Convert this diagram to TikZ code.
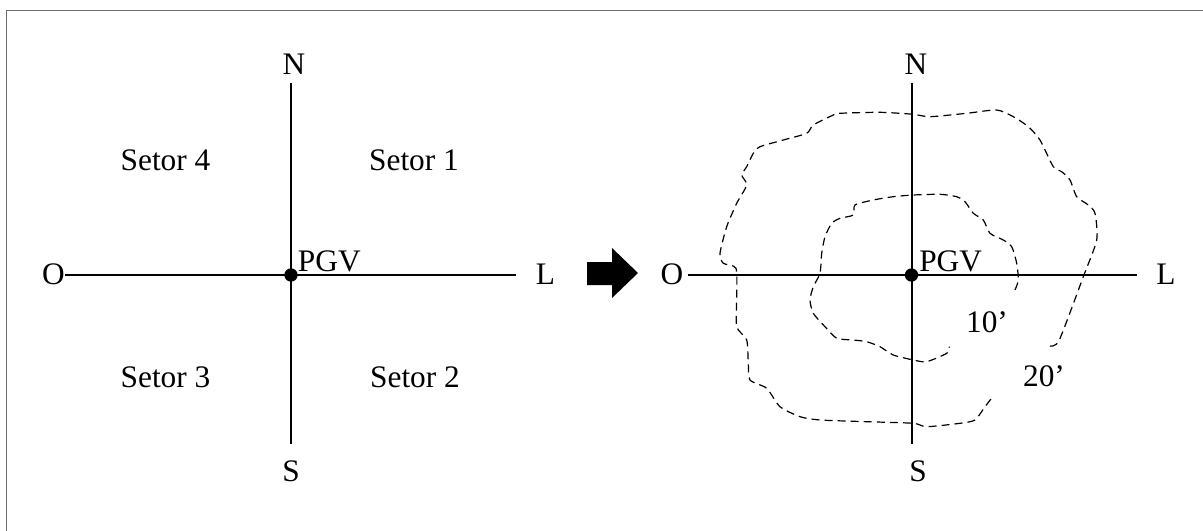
\documentclass[tikz,border=0pt]{standalone}
\usepackage{fontspec}
\setmainfont{Liberation Serif}
\usetikzlibrary{positioning}

\definecolor{framegray}{RGB}{110,110,110}

\begin{document}
\begin{tikzpicture}[
    x=0.75pt, y=-0.75pt,
    axis/.style={line width=1.5pt},
    contour/.style={line width=0.9pt, dash pattern=on 6pt off 3.8pt},
    dot/.style={circle, fill, inner sep=0pt, minimum size=10pt},
    lbl/.style={inner sep=0pt, anchor=base, font=\fontsize{23.5pt}{28pt}\selectfont},
    sector/.style={lbl},
    bigarrow/.style={fill=black}
]
\useasboundingbox (0,0) rectangle (1203,531);

% Frame
\draw[framegray, line width=1.1pt] (1203,10.7) -- (6.7,10.7) -- (6.7,531);

% Left compass
\coordinate (nL) at (291,83);
\coordinate (sL) at (291,443.6);
\coordinate (oL) at (65,275);
\coordinate (lL) at (516,275);
\draw[axis] (nL) -- (sL);
\draw[axis] (oL) -- (lL);
\node[dot] (pgvL) at (291,275) {};
\node[lbl] (northL) at (294,75) {N};
\node[lbl] (southL) at (291,481) {S};
\node[lbl] (westL) at (53.5,284) {O};
\node[lbl] (eastL) at (545.5,284) {L};
\node[lbl, anchor=base west] (pgvtextL) at (297.7,271) {PGV};

% Sectors
\node[sector] (setor4) at (165.5,171) {Setor 4};
\node[sector] (setor1) at (414,171) {Setor 1};
\node[sector] (setor3) at (165.5,387) {Setor 3};
\node[sector] (setor2) at (415,387) {Setor 2};

% Arrow between the two
\fill[bigarrow] (587,262) -- (612,262) -- (612,248) -- (638,273)
    -- (612,298) -- (612,285) -- (587,285) -- cycle;

% Right compass
\coordinate (nR) at (911.5,83);
\coordinate (sR) at (911.5,443.6);
\coordinate (oR) at (687.7,275);
\coordinate (lR) at (1136.5,275);
\draw[axis] (nR) -- (sR);
\draw[axis] (oR) -- (lR);
\node[dot] (pgvR) at (911.5,275) {};
\node[lbl] (northR) at (916,75) {N};
\node[lbl] (southR) at (918,481) {S};
\node[lbl] (westR) at (672,284) {O};
\node[lbl] (eastR) at (1166,284) {L};
\node[lbl, anchor=base west] (pgvtextR) at (919,271) {PGV};

% Contour 20'
\draw[contour] plot[smooth, tension=0.4] coordinates {
    (1050,346) (1059.3,340) (1083.3,276.7) (1096.7,240) (1095,213.3)
    (1088.3,205) (1076.7,196.7) (1070,180) (1061.7,171.7) (1053.3,166.7)
    (1040,140) (1028.3,126.7) (1013.3,116.7) (996.7,110) (966.7,113.3)
    (930,116.7) (913.3,114.3) (880,112.3) (840,113.3) (833.3,115)
    (813.3,125) (806.7,133.3) (783.3,140) (760,146.7) (753.3,153.3)
    (746.7,166.7) (741.7,175) (746.7,185) (736.7,203.3) (726.7,226.7)
    (720,253.3) (723.3,263.3) (736,268.3) (736.7,296.7) (736.7,326.7)
    (746.7,340) (748.3,363.3) (750,380) (766.7,388.3) (780,406.7)
    (800,416.7) (820,420) (866.7,421.7) (913.3,423.3) (926.7,426.7)
    (960,423.3) (975,420) (985,406.7) (992.7,396.7)};
\node[lbl] (t20) at (1044,386) {20’};

% Contour 10'
\draw[contour] plot[smooth, tension=0.4] coordinates {
    (1015,290) (1018.3,280) (1016.7,263.3) (1011.7,246.7) (1003.3,240)
    (990,233.3) (983.3,220) (973.3,213.3) (965,201.7) (956.7,196.7)
    (940,194.3) (913.3,195) (893.3,196.7) (873.3,200) (855,205)
    (853.3,215) (840,218.3) (831.7,223.3) (825,236.7) (821.7,253.3)
    (820,273.3) (813.3,286.7) (810,300) (813.3,313.3) (825,326.7)
    (836.7,338.3) (853.3,340) (866.7,341.7) (880,346.7) (893.3,355)
    (913.3,360) (926.7,361.7) (946.7,353.3) (949.3,346.7)};
\node[lbl] (t10) at (987,332) {10’};

\end{tikzpicture}
\end{document}
